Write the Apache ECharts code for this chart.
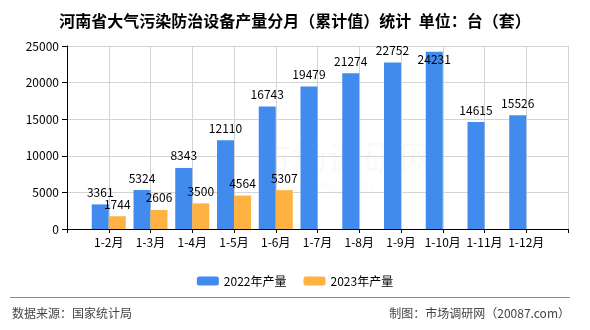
<!DOCTYPE html>
<html>
<head>
<meta charset="utf-8">
<script src="https://cdn.jsdelivr.net/npm/echarts@6/dist/echarts.min.js"></script>
<style>
html,body{margin:0;padding:0;background:#fff;}
#chart{width:590px;height:330px;}
</style>
</head>
<body>
<div id="chart"></div>
<script>
var titleText = '河南省大气污染防治设备产量分月（累计值）统计  单位：台（套）';
var months = ['1-2月','1-3月','1-4月','1-5月','1-6月','1-7月','1-8月','1-9月','1-10月','1-11月','1-12月'];
var seriesNames = ['2022年产量','2023年产量'];
var values2022 = [3361,5324,8343,12110,16743,19479,21274,22752,24231,14615,15526];
var values2023 = [1744,2606,3500,4564,5307,null,null,null,null,null,null];
var yTicks = {min:0, max:25000, interval:5000};
var sourceText = '数据来源：国家统计局';
var makerText = '制图：市场调研网（20087.com）';

var colors = ['#418BEE','#FDB242'];
var FONT = '"Noto Sans CJK SC", "Noto Sans", sans-serif';

// padded categories: empty slot at each end
var cats = [''].concat(months).concat(['']);
function pad(arr){
  var out = [null];
  arr.forEach(function(v){
    if (v == null) { out.push(null); return; }
    if (v > yTicks.max * 0.95) {
      out.push({value: v, label: {position: 'insideTop', distance: 2}});
    } else {
      out.push(v);
    }
  });
  out.push(null);
  return out;
}

var chart = echarts.init(document.getElementById('chart'), null, {renderer:'canvas'});
var labelStyle = {show:true, position:'top', distance:6, color:'#000', fontSize:12, fontFamily:FONT};
chart.setOption({
  animation:false,
  backgroundColor:'#fff',
  title:{
    text: titleText, left:'center', top:8,
    textStyle:{fontSize:16, fontWeight:'bold', color:'#000', fontFamily:FONT}
  },
  legend:{
    data: seriesNames, top:270, left:'center',
    itemWidth:22, itemHeight:9, itemGap:17,
    textStyle:{fontSize:12, color:'#000', fontFamily:FONT}
  },
  grid:{left:67, right:22, top:46, bottom:101, containLabel:false},
  xAxis:{
    type:'category', data:cats, boundaryGap:false,
    axisLine:{lineStyle:{color:'#000', width:1}},
    axisTick:{show:true, length:4, lineStyle:{color:'#000'}},
    axisLabel:{color:'#000', fontSize:12, margin:7, fontFamily:FONT, interval:0},
    splitLine:{show:true, lineStyle:{color:'#d4d4d4', width:1}}
  },
  yAxis:{
    type:'value', min:yTicks.min, max:yTicks.max, interval:yTicks.interval,
    axisLine:{show:true, lineStyle:{color:'#000', width:1}},
    axisTick:{show:true, length:5, lineStyle:{color:'#000'}},
    axisLabel:{color:'#000', fontSize:12, margin:8, fontFamily:FONT,
               formatter:function(v){ return String(v); }},
    splitLine:{show:true, lineStyle:{color:'#d4d4d4', width:1}}
  },
  series:[
    {name:seriesNames[0], type:'bar', data:pad(values2022), barWidth:17, barGap:'0%',
     itemStyle:{color:colors[0]}, label:labelStyle},
    {name:seriesNames[1], type:'bar', data:pad(values2023), barWidth:17, barGap:'0%',
     itemStyle:{color:colors[1]}, label:labelStyle}
  ],
  graphic:[
    {type:'text', left:255, top:140, z:-1, silent:true,
     style:{text:'市场调研网', fontSize:36, fill:'rgba(0,0,0,0.025)', fontFamily:FONT}},
    {type:'text', left:300, top:178, z:-1, silent:true,
     style:{text:'www.20087.com', fontSize:14, fill:'rgba(0,0,0,0.025)', fontFamily:FONT}},
    {type:'line', silent:true,
     shape:{x1:10, y1:297.5, x2:570, y2:297.5},
     style:{stroke:'#8a8a8a', lineWidth:1}},
    {type:'text', left:12, top:307, silent:true,
     style:{text:sourceText, fontSize:12, fill:'#444', fontFamily:FONT}},
    {type:'text', right:20, top:307, silent:true,
     style:{text:makerText, fontSize:12, fill:'#444', fontFamily:FONT}}
  ]
});
</script>
</body>
</html>
